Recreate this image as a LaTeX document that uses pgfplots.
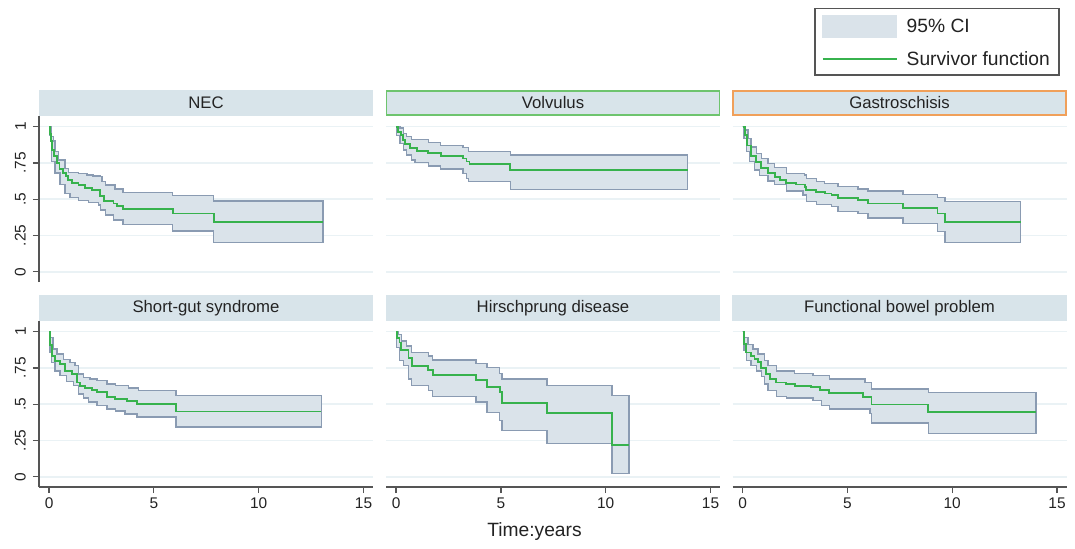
\documentclass[border=0pt]{standalone}
\usepackage{fontspec}
\setmainfont{Liberation Sans}
\usepackage{pgfplots}
\pgfplotsset{compat=1.18}
\usepgfplotslibrary{fillbetween}

\definecolor{cifill}{RGB}{218,227,234}
\definecolor{ciedge}{RGB}{138,155,178}
\definecolor{kmgreen}{RGB}{55,178,77}
\definecolor{stripc}{RGB}{216,228,234}
\definecolor{gridc}{RGB}{234,242,245}
\definecolor{axisc}{RGB}{85,85,85}
\definecolor{labc}{RGB}{35,35,35}
\definecolor{volvb}{RGB}{110,196,110}
\definecolor{gastb}{RGB}{240,160,90}

\pgfplotsset{
  km/.style={
    scale only axis, width=334bp, height=166bp, anchor=north west,
    xmin=-0.48, xmax=15.45, ymin=-0.07, ymax=1.073,
    axis lines*=left, axis line style={-,axisc,line width=1.3bp},
    tick align=outside, major tick length=6bp,
    tick style={axisc,line width=1.2bp},
    xtick={0,5,10,15}, xticklabels={0,5,10,15},
    ytick={0,0.25,0.5,0.75,1}, yticklabels={0,.25,.5,.75,1},
    ymajorgrids, grid style={gridc,line width=1.6bp},
    tick label style={font=\fontsize{15.5}{18}\selectfont,text=labc},
    xticklabel style={inner ysep=5bp},
    yticklabel style={rotate=90,anchor=south,inner ysep=7bp},
    every axis title/.style={at={(0.5,1)},anchor=south,yshift=0.5bp,
      fill=stripc,draw=stripc,line width=1.5bp,minimum width=333bp,
      minimum height=24bp,inner sep=0pt,
      font=\fontsize{16.8}{19}\selectfont,text=labc},
  },
  toprow/.style={xtick=\empty, x axis line style={draw=none}},
  inner/.style={yticklabels={}, ytick style={draw=none},
    y axis line style={draw=none}},
  ci/.style={fill=cifill,draw=ciedge,line width=1.4bp,forget plot},
  surv/.style={const plot,kmgreen,line width=1.8bp,forget plot},
  bound/.style={const plot,draw=none,forget plot},
}

\begin{document}
\begin{tikzpicture}

% NEC
\begin{axis}[km,toprow,at={(39bp,-116bp)},title={NEC}]
\addplot[bound,name path=up] coordinates {(0,1) (0.1,0.93) (0.2,0.9) (0.29,0.83)
  (0.45,0.77) (0.76,0.71) (0.92,0.685) (1.4,0.678) (1.8,0.667) (2.1,0.66)
  (2.44,0.655) (2.52,0.62) (2.68,0.598) (3.15,0.57) (3.52,0.547) (5.9,0.524)
  (7.85,0.487) (13.07,0.487)};
\addplot[bound,name path=lo] coordinates {(0,1) (0.05,0.94) (0.13,0.76) (0.29,0.68)
  (0.53,0.6) (0.76,0.54) (1.0,0.51) (1.4,0.49) (1.88,0.478) (2.36,0.46)
  (2.44,0.425) (2.68,0.39) (3.07,0.356) (3.52,0.326) (5.9,0.28) (7.85,0.202)
  (13.07,0.202)};
\addplot[ci] fill between[of=up and lo];
\addplot[surv] coordinates {(0,1) (0.05,0.95) (0.1,0.9) (0.15,0.84) (0.25,0.8)
  (0.37,0.75) (0.5,0.71) (0.65,0.68) (0.8,0.66) (0.9,0.63) (1.1,0.61) (1.4,0.598)
  (1.72,0.58) (2.04,0.562) (2.44,0.52) (2.63,0.49) (3.07,0.47) (3.23,0.455)
  (3.52,0.432) (5.9,0.402) (7.85,0.345) (13.07,0.345)};
\end{axis}

% Volvulus
\begin{axis}[km,toprow,inner,at={(386bp,-116bp)},title={Volvulus},
  title style={draw=volvb}]
\addplot[bound,name path=up] coordinates {(0,1) (0.19,0.99) (0.35,0.954) (0.5,0.93)
  (0.75,0.91) (1.54,0.89) (2.13,0.87) (3.2,0.857) (3.45,0.83) (5.45,0.805)
  (13.9,0.805)};
\addplot[bound,name path=lo] coordinates {(0,1) (0.03,0.94) (0.19,0.885) (0.35,0.84)
  (0.5,0.805) (0.75,0.77) (0.9,0.754) (1.54,0.73) (2.13,0.708) (3.2,0.678)
  (3.35,0.644) (3.45,0.62) (5.45,0.568) (13.9,0.568)};
\addplot[ci] fill between[of=up and lo];
\addplot[surv] coordinates {(0,1) (0.1,0.965) (0.22,0.94) (0.32,0.91) (0.43,0.88)
  (0.67,0.85) (0.99,0.83) (1.54,0.816) (2.13,0.8) (3.2,0.78) (3.36,0.76)
  (3.5,0.74) (5.45,0.70) (13.9,0.70)};
\end{axis}

% Gastroschisis, carries the legend
\begin{axis}[km,toprow,inner,at={(732.5bp,-116bp)},title={Gastroschisis},
  title style={draw=gastb},
  legend style={at={(0.979,1.649)},anchor=north east,draw=axisc,line width=1.2bp,
    font=\fontsize{19.3}{22}\selectfont,text=labc,cells={anchor=west},
    inner xsep=7bp,inner ysep=6bp,row sep=12bp,
    /tikz/every odd column/.append style={column sep=7bp}}]
\addlegendimage{legend image code/.code={\fill[cifill] (0bp,-10.8bp) rectangle (74bp,10.8bp);}}
\addlegendentry{95\% CI}
\addlegendimage{legend image code/.code={\draw[kmgreen,line width=1.8bp] (0bp,0bp) -- (74bp,0bp);}}
\addlegendentry{Survivor function}
\addplot[bound,name path=up] coordinates {(0,1) (0.1,0.977) (0.25,0.92) (0.41,0.86)
  (0.65,0.816) (0.89,0.78) (1.21,0.747) (1.53,0.72) (2.09,0.678) (2.96,0.667)
  (3.04,0.644) (3.52,0.62) (3.92,0.609) (4.56,0.586) (5.51,0.57) (5.99,0.556)
  (7.66,0.533) (9.3,0.51) (9.65,0.483) (13.26,0.483)};
\addplot[bound,name path=lo] coordinates {(0,1) (0.06,0.92) (0.18,0.83) (0.33,0.76)
  (0.57,0.70) (0.81,0.662) (1.21,0.625) (1.53,0.602) (2.09,0.556) (2.88,0.529)
  (3.04,0.483) (3.52,0.464) (4.24,0.448) (4.56,0.414) (5.51,0.402) (5.99,0.372)
  (7.66,0.333) (9.3,0.276) (9.65,0.202) (13.26,0.202)};
\addplot[ci] fill between[of=up and lo];
\addplot[surv] coordinates {(0,1) (0.1,0.94) (0.22,0.87) (0.41,0.8) (0.65,0.754)
  (0.89,0.713) (1.21,0.678) (1.53,0.655) (1.77,0.632) (2.09,0.609) (2.56,0.602)
  (2.96,0.586) (3.04,0.563) (3.52,0.552) (3.92,0.54) (4.24,0.529) (4.56,0.506)
  (5.51,0.494) (5.99,0.471) (7.66,0.441) (9.3,0.402) (9.65,0.345) (13.26,0.345)};
\end{axis}

% Short-gut syndrome
\begin{axis}[km,at={(39bp,-321bp)},title={Short-gut syndrome}]
\addplot[bound,name path=up] coordinates {(0,1) (0.08,0.96) (0.18,0.88) (0.37,0.845)
  (0.69,0.81) (1.0,0.788) (1.24,0.765) (1.4,0.708) (1.64,0.685) (1.96,0.674)
  (2.28,0.662) (2.76,0.64) (3.16,0.628) (3.79,0.612) (4.27,0.594) (6.06,0.56)
  (12.99,0.56)};
\addplot[bound,name path=lo] coordinates {(0,1) (0.05,0.856) (0.13,0.788) (0.29,0.73)
  (0.53,0.696) (0.84,0.658) (1.16,0.628) (1.4,0.571) (1.64,0.543) (1.88,0.514)
  (2.28,0.49) (2.76,0.468) (3.16,0.452) (3.63,0.434) (4.19,0.411) (6.06,0.342)
  (12.99,0.342)};
\addplot[ci] fill between[of=up and lo];
\addplot[surv] coordinates {(0,1) (0.05,0.91) (0.13,0.83) (0.29,0.8) (0.53,0.776)
  (0.77,0.73) (1.08,0.708) (1.32,0.65) (1.48,0.628) (1.72,0.612) (2.04,0.598)
  (2.28,0.582) (2.76,0.548) (3.16,0.536) (3.71,0.52) (4.19,0.502) (6.06,0.45)
  (12.99,0.45)};
\end{axis}

% Hirschsprung disease
\begin{axis}[km,inner,at={(386bp,-321bp)},title={Hirschprung disease},
  xlabel={Time:years},
  xlabel style={font=\fontsize{19.3}{22}\selectfont,text=labc,xshift=-18.5bp,
    yshift=-5bp}]
\addplot[bound,name path=up] coordinates {(0,1) (0.11,0.98) (0.27,0.936) (0.51,0.9)
  (0.75,0.856) (1.54,0.833) (1.75,0.804) (3.82,0.78) (4.33,0.753) (4.94,0.712)
  (5.05,0.674) (7.2,0.628) (10.3,0.56) (11.1,0.56)};
\addplot[bound,name path=lo] coordinates {(0,1) (0.03,0.89) (0.16,0.8) (0.35,0.765)
  (0.59,0.674) (0.75,0.628) (1.54,0.594) (1.75,0.553) (3.82,0.514) (4.33,0.445)
  (4.94,0.388) (5.05,0.32) (7.2,0.228) (10.3,0.023) (11.1,0.023)};
\addplot[ci] fill between[of=up and lo];
\addplot[surv] coordinates {(0,1) (0.03,0.955) (0.16,0.925) (0.22,0.872) (0.59,0.82)
  (0.75,0.763) (1.54,0.735) (1.75,0.703) (3.82,0.667) (4.33,0.616) (4.94,0.582)
  (5.05,0.51) (7.2,0.438) (10.3,0.221) (11.1,0.221)};
\end{axis}

% Functional bowel problem
\begin{axis}[km,inner,at={(732.5bp,-321bp)},title={Functional bowel problem}]
\addplot[bound,name path=up] coordinates {(0,1) (0.08,0.96) (0.26,0.913) (0.49,0.879)
  (0.73,0.845) (1.05,0.8) (1.21,0.765) (1.61,0.73) (2.49,0.712) (3.36,0.696)
  (4.16,0.674) (5.83,0.65) (6.15,0.605) (8.86,0.582) (14.0,0.582)};
\addplot[bound,name path=lo] coordinates {(0,1) (0.06,0.868) (0.18,0.8) (0.41,0.765)
  (0.65,0.73) (0.89,0.69) (1.05,0.64) (1.21,0.594) (1.61,0.553) (2.09,0.543)
  (3.36,0.525) (3.76,0.49) (4.16,0.468) (6.07,0.438) (6.15,0.37) (8.86,0.3)
  (14.0,0.3)};
\addplot[ci] fill between[of=up and lo];
\addplot[surv] coordinates {(0,1) (0.06,0.913) (0.18,0.856) (0.41,0.833) (0.57,0.81)
  (0.73,0.788) (0.89,0.749) (1.13,0.708) (1.29,0.674) (1.61,0.65) (2.09,0.64)
  (2.49,0.628) (3.28,0.616) (3.68,0.598) (4.11,0.575) (5.75,0.548) (6.15,0.498)
  (8.86,0.445) (14.0,0.445)};
\end{axis}

\pgfresetboundingbox
\path (0bp,0bp) rectangle (1075bp,-549bp);
\end{tikzpicture}
\end{document}
